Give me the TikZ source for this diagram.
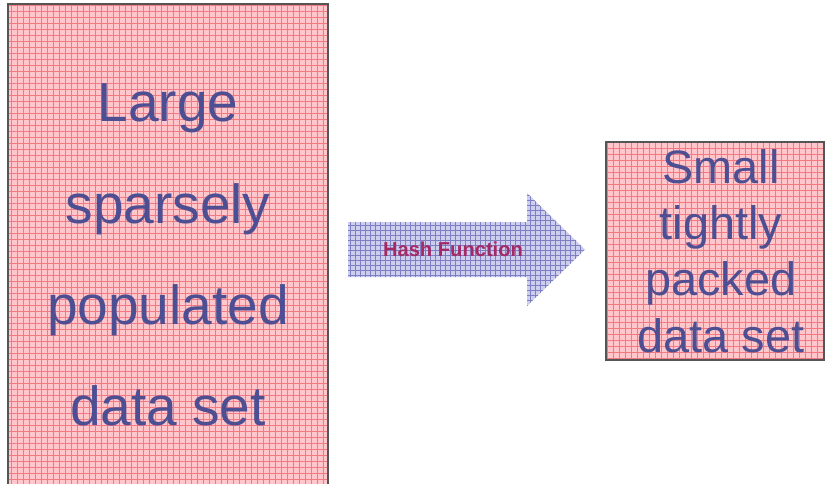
\documentclass[tikz,border=0pt]{standalone}
\usepackage{fontspec}
\setmainfont{Liberation Sans}

\definecolor{boxpink}{HTML}{FFC6CC}
\definecolor{gridred}{HTML}{F27882}
\definecolor{rimgray}{HTML}{555555}
\definecolor{textblue}{HTML}{4E4E92}
\definecolor{arrowlilac}{HTML}{CDCDEE}
\definecolor{gridblue}{HTML}{7E7EC2}
\definecolor{hashred}{HTML}{A42A66}

\tikzset{
	datagrid/.style={draw=rimgray, line width=1.7pt, fill=boxpink,
		path picture={\draw[gridred, line width=0.4pt, step=0.18cm]
			(path picture bounding box.south west) grid (path picture bounding box.north east);}},
	datatext/.style={text=textblue, align=center, inner sep=0pt},
	hashshape/.style={fill=arrowlilac,
		path picture={\draw[gridblue, line width=0.35pt, step=0.15cm]
			(path picture bounding box.south west) grid (path picture bounding box.north east);}}
}

\begin{document}
\begin{tikzpicture}[x=0.03cm, y=-0.03cm]
	\useasboundingbox (0,0) rectangle (825,484);
	\clip (0,0) rectangle (825,484);

	% ------------------- Large data set ------------------- %
	\node[datagrid, datatext, minimum width=9.6cm, minimum height=15.06cm,
		font=\fontsize{47}{86.5}\selectfont] (largeset) at (168,255)
		{Large\\sparsely\\populated\\data set};

	% ------------------- Hash function arrow ------------------- %
	\path[hashshape] (348,222) -- (527,222) -- (527,193) -- (585,249.5)
		-- (527,306) -- (527,277) -- (348,277) -- cycle;
	\node[text=hashred, font=\fontsize{17.2}{20}\selectfont\bfseries, inner sep=0pt]
		(hashlabel) at (453,249) {Hash Function};

	% ------------------- Small data set ------------------- %
	\node[datagrid, datatext, minimum width=6.54cm, minimum height=6.54cm,
		font=\fontsize{40}{48}\selectfont] (smallset) at (715,251)
		{\hspace*{0.36cm}Small\\\hspace*{0.36cm}tightly\\\hspace*{0.36cm}packed\\\hspace*{0.36cm}data set};
\end{tikzpicture}
\end{document}
